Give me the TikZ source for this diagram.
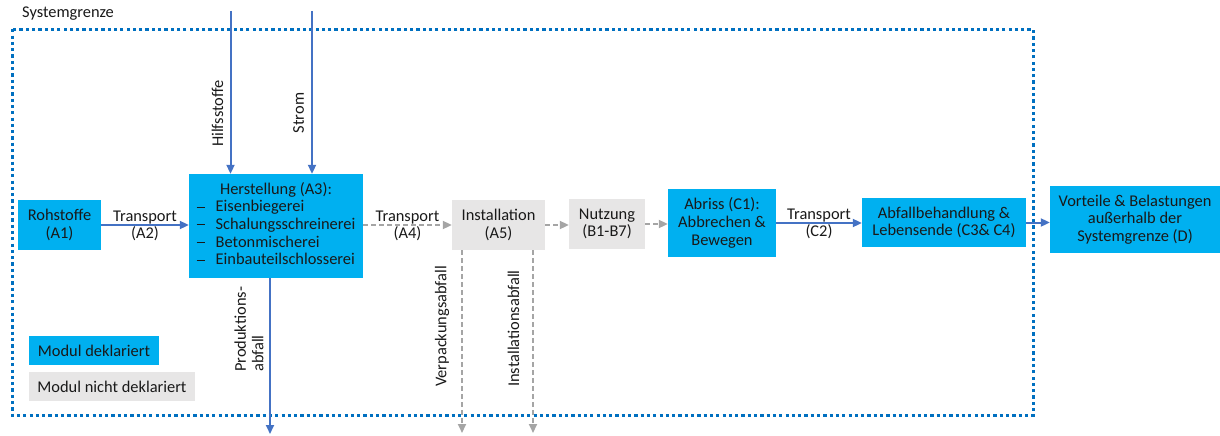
\documentclass[tikz,border=0pt]{standalone}
\usepackage{fontspec}
\setmainfont{Carlito}
\usetikzlibrary{arrows.meta}
\definecolor{declblue}{HTML}{00B0F0}
\definecolor{ndgray}{HTML}{E7E6E6}
\definecolor{arrblue}{HTML}{4472C4}
\definecolor{arrgray}{HTML}{A5A5A5}
\definecolor{sysblue}{HTML}{0070C0}
\begin{document}
\begin{tikzpicture}[x=1pt,y=-1pt,
  every node/.style={font=\fontsize{16.4}{17.7}\selectfont, text=black!90},
  decl/.style={fill=declblue, inner sep=0pt, align=center},
  notdecl/.style={fill=ndgray, inner sep=0pt, align=center},
  barrow/.style={draw=arrblue, line width=2pt, -{Triangle[length=9pt,width=8pt]}},
  garrow/.style={draw=arrgray, line width=2pt, dash pattern=on 5pt off 3pt, -{Triangle[length=9pt,width=8pt]}},
  sysb/.style={draw=sysblue, line width=3pt, dash pattern=on 3.2pt off 3.1pt},
  lbl/.style={inner sep=0pt, align=center},
  vlbl/.style={inner sep=0pt, rotate=90, anchor=west, align=left}]
\useasboundingbox (0,0) rectangle (1220,436);

% system boundary
\draw[sysb] (12.7,29.3) rectangle (1033,415.7);
\node[anchor=base west, inner sep=0pt] (sg) at (22,18) {Systemgrenze};

% boxes
\node[decl, minimum width=83, minimum height=50] (roh) at (59.5,225) {Rohstoffe\\(A1)};
\node[decl, minimum width=174, minimum height=104] (her) at (276,226)
  {\begin{tabular}{@{}l@{\hspace{11pt}}l@{}}
   \multicolumn{2}{c}{Herstellung (A3):}\\
   \rule[4.5pt]{8pt}{0.8pt} & Eisenbiegerei\\
   \rule[4.5pt]{8pt}{0.8pt} & Schalungsschreinerei\\
   \rule[4.5pt]{8pt}{0.8pt} & Betonmischerei\\
   \rule[4.5pt]{8pt}{0.8pt} & Einbauteilschlosserei
   \end{tabular}};
\node[notdecl, minimum width=93, minimum height=50] (ins) at (498.5,225) {Installation\\(A5)};
\node[notdecl, minimum width=76, minimum height=50] (nut) at (607,224) {Nutzung\\(B1-B7)};
\node[decl, minimum width=108, minimum height=68] (abr) at (722,223) {Abriss (C1):\\Abbrechen \&\\Bewegen};
\node[decl, minimum width=164, minimum height=49] (abf) at (944,222.5) {Abfallbehandlung \&\\Lebensende (C3\& C4)};
\node[decl, minimum width=170, minimum height=67] (vor) at (1135,219.5) {Vorteile \& Belastungen\\au\ss erhalb der\\Systemgrenze (D)};

% legend
\node[decl, minimum width=130, minimum height=29] (leg1) at (94,350.5) {Modul deklariert};
\node[notdecl, minimum width=166, minimum height=29] (leg2) at (112,386.5) {Modul nicht deklariert};

% horizontal connectors
\draw[barrow] (roh.east) -- (roh.east -| her.west)
  node[lbl, midway, yshift=-1pt] (t2) {Transport\\(A2)};
\draw[garrow] (her.east |- ins.west) -- (ins.west)
  node[lbl, midway, yshift=-1pt] (t4) {Transport\\(A4)};
\draw[garrow] (ins.east) -- (ins.east -| nut.west);
\draw[garrow] (nut.east) -- (nut.east -| abr.west);
\draw[barrow] (abr.east) -- (abr.east -| abf.west)
  node[lbl, midway, yshift=-1pt] (tc2) {Transport\\(C2)};
\draw[barrow] (abf.east) -- (abf.east -| vor.west);

% inputs
\coordinate (hs) at (230.5,11);
\coordinate (st) at (312,11);
\draw[barrow] (hs) -- (hs |- her.north);
\draw[barrow] (st) -- (st |- her.north);
\node[vlbl, anchor=center] (hsl) at (217.5,113.5) {Hilfsstoffe};
\node[vlbl, anchor=center] (stl) at (298.5,113) {Strom};

% outputs
\coordinate (pa) at (270,434);
\coordinate (va) at (462,433);
\coordinate (ia) at (533,433);
\draw[barrow] (pa |- her.south) -- (pa);
\draw[garrow] (va |- ins.south) -- (va);
\draw[garrow] (ia |- ins.south) -- (ia);
\node[vlbl] (pal) at (249,372) {Produktions-\\abfall};
\node[vlbl] (val) at (442,387) {Verpackungsabfall};
\node[vlbl] (ial) at (513.5,387) {Installationsabfall};
\end{tikzpicture}
\end{document}
